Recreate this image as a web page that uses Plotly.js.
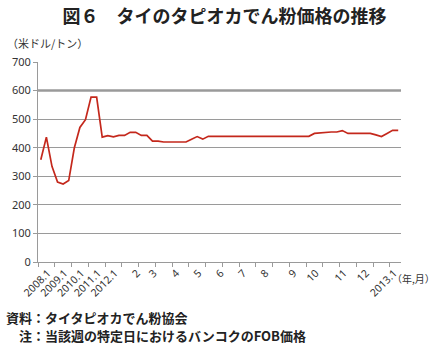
<!DOCTYPE html>
<html>
<head>
<meta charset="utf-8">
<script src="https://cdn.plot.ly/plotly-3.0.1.min.js"></script>
<style>
html,body{margin:0;padding:0;background:#fff;}
#chart{width:436px;height:352px;}
</style>
</head>
<body>
<div id="chart"></div>
<script>
// Price (US$/ton): samples 2008–2011, then weekly 2012 – 2013.1
const price = [
  358, 437, 335, 280, 273, 285, 399, 471, 498, 577, 577, 437,
  442, 438, 443, 443, 454, 454, 443, 443, 423, 423, 420, 420,
  420, 420, 420, 430, 439, 430, 440, 440, 440, 440, 440, 440,
  440, 440, 440, 440, 440, 440, 440, 440, 440, 440, 440, 440,
  440, 450, 452, 455, 455, 455, 460, 450, 450, 450, 450, 450,
  445, 439, 450, 461, 461
];
const tickCats   = [0, 3, 6, 9, 12, 16, 19, 23, 27, 31, 35, 39, 44, 48, 53, 57, 62];
const tickLabels = ['2008.1','2009.1','2010.1','2011.1','2012.1','2','3','4','5','6','7','8','9','10','11','12','2013.1'];
const yTicks = [0, 100, 200, 300, 400, 500, 600, 700];
const refLevel = 600;

const titleText = '図６　タイのタピオカでん粉価格の推移';
const yUnit = '（米ドル/トン）';
const xUnit = '（年,月）';
const note1 = '資料：タイタピオカでん粉協会';
const note2 = '注：当該週の特定日におけるバンコクのFOB価格';

const xIdx = price.map((_, i) => i);
const nCat = price.length;

const cjk = '"Noto Sans CJK JP", "Noto Sans", sans-serif';
const num = '"Noto Sans", "Liberation Sans", sans-serif';

const traces = [{
  x: xIdx, y: price, type: 'scatter', mode: 'lines',
  line: {color: '#c4281c', width: 1.7},
  hoverinfo: 'skip', showlegend: false
}, {
  x: [-0.5, nCat - 0.5], y: [0, 0], xaxis: 'x2', type: 'scatter', mode: 'lines',
  line: {width: 0}, hoverinfo: 'skip', showlegend: false
}];

const layout = {
  width: 436, height: 352,
  margin: {l: 38, r: 35, t: 62, b: 90},
  paper_bgcolor: '#fff', plot_bgcolor: '#fff',
  title: {
    text: titleText,
    font: {family: cjk, size: 18, color: '#222', weight: 'bold'},
    x: 0.515, xref: 'container', xanchor: 'center',
    y: 0.952, yref: 'container', yanchor: 'middle'
  },
  xaxis: {
    range: [-0.5, nCat - 0.5],
    tickvals: tickCats, ticktext: tickLabels,
    tickangle: -45, ticks: '', ticklen: 0,
    ticklabelshift: 7,
    tickfont: {family: num, size: 10.5, color: '#333'},
    showgrid: false, zeroline: false,
    showline: true, linecolor: '#9a9a9a', linewidth: 1,
    fixedrange: true
  },
  xaxis2: {
    overlaying: 'x', anchor: 'y',
    range: [-0.5, nCat - 0.5],
    tick0: -0.5, dtick: 3, tickmode: 'linear',
    ticks: 'outside', ticklen: 4, tickcolor: '#9a9a9a', tickwidth: 1,
    showticklabels: false, showgrid: false, zeroline: false, showline: false,
    fixedrange: true
  },
  yaxis: {
    range: [0, 700],
    tickvals: yTicks,
    ticks: 'outside', ticklen: 4, tickcolor: '#9a9a9a',
    tickfont: {family: num, size: 11, color: '#333'},
    showgrid: true, gridcolor: '#9a9a9a', gridwidth: 1,
    zeroline: false,
    showline: true, linecolor: '#9a9a9a', linewidth: 1,
    fixedrange: true
  },
  shapes: [{
    type: 'line', xref: 'paper', yref: 'y',
    x0: 0, x1: 1, y0: refLevel, y1: refLevel,
    line: {color: '#9a9a9a', width: 2.5}, layer: 'below'
  }],
  annotations: [
    {text: yUnit, xref: 'paper', yref: 'paper', x: -0.092, y: 1.097,
     xanchor: 'left', yanchor: 'middle', showarrow: false,
     font: {family: cjk, size: 11, color: '#333'}},
    {text: xUnit, xref: 'paper', yref: 'paper', x: 1.098, y: -0.08,
     xanchor: 'right', yanchor: 'middle', showarrow: false,
     font: {family: cjk, size: 10, color: '#333'}},
    {text: note1, xref: 'paper', yref: 'paper', x: -0.094, y: -0.278,
     xanchor: 'left', yanchor: 'middle', showarrow: false,
     font: {family: cjk, size: 13, color: '#222', weight: 'bold'}},
    {text: note2, xref: 'paper', yref: 'paper', x: -0.058, y: -0.368,
     xanchor: 'left', yanchor: 'middle', showarrow: false,
     font: {family: cjk, size: 13, color: '#222', weight: 'bold'}}
  ]
};

Plotly.newPlot('chart', traces, layout, {displayModeBar: false, staticPlot: true});
</script>
</body>
</html>
